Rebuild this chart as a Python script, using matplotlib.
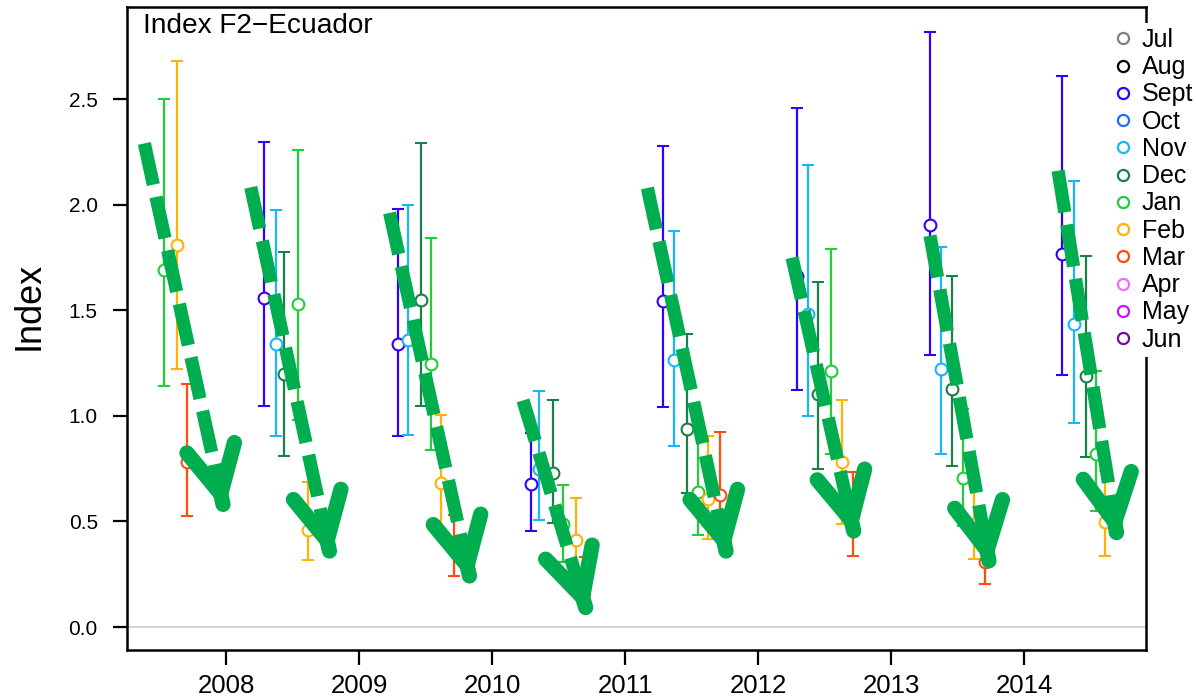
import matplotlib
matplotlib.use("Agg")
import matplotlib.pyplot as plt
from matplotlib.lines import Line2D
import numpy as np

plt.rcParams['font.family'] = ['Liberation Sans', 'DejaVu Sans']

# legend entries (R-style month palette)
legend_months = ["Jul", "Aug", "Sept", "Oct", "Nov", "Dec", "Jan", "Feb", "Mar", "Apr", "May", "Jun"]
legend_colors = ["#7F7F7F", "#000000", "#3300FF", "#1E6FFF", "#19B5FF", "#1B7F4A",
                 "#22CC3A", "#FFB300", "#FF4D0D", "#FF66FF", "#CC11FF", "#6A0DA0"]

# one entry per survey: month, position (decimal year), index, lower and upper bound
pt_month = ["Jan", "Feb", "Mar",
            "Sept", "Nov", "Dec", "Jan", "Feb",
            "Sept", "Nov", "Dec", "Jan", "Feb", "Mar",
            "Sept", "Nov", "Dec", "Jan", "Feb", "Mar",
            "Sept", "Nov", "Dec", "Jan", "Feb", "Mar",
            "Sept", "Nov", "Dec", "Jan", "Feb", "Mar",
            "Sept", "Nov", "Dec", "Jan", "Feb", "Mar",
            "Sept", "Nov", "Dec", "Jan", "Feb"]
pt_x = [2007.530, 2007.629, 2007.705,
        2008.286, 2008.376, 2008.436, 2008.544, 2008.619,
        2009.293, 2009.371, 2009.464, 2009.541, 2009.617, 2009.714,
        2010.293, 2010.356, 2010.461, 2010.536, 2010.632, 2010.699,
        2011.283, 2011.371, 2011.464, 2011.547, 2011.626, 2011.714,
        2012.291, 2012.378, 2012.453, 2012.547, 2012.629, 2012.712,
        2013.293, 2013.376, 2013.461, 2013.539, 2013.624, 2013.707,
        2014.288, 2014.376, 2014.464, 2014.541, 2014.609]
pt_val = [1.69, 1.81, 0.78,
          1.557, 1.34, 1.20, 1.53, 0.46,
          1.34, 1.357, 1.55, 1.247, 0.682, 0.38,
          0.676, 0.75, 0.727, 0.49, 0.411, 0.24,
          1.546, 1.266, 0.94, 0.64, 0.608, 0.624,
          1.664, 1.483, 1.105, 1.212, 0.78, 0.53,
          1.905, 1.22, 1.128, 0.706, 0.49, 0.306,
          1.767, 1.433, 1.188, 0.821, 0.498]
pt_lo = [1.14, 1.22, 0.525,
         1.046, 0.903, 0.81, 0.98, 0.317,
         0.903, 0.91, 1.045, 0.84, 0.459, 0.241,
         0.455, 0.509, 0.493, 0.309, 0.22, 0.15,
         1.042, 0.856, 0.635, 0.435, 0.415, 0.42,
         1.12, 0.998, 0.746, 0.821, 0.49, 0.336,
         1.289, 0.821, 0.763, 0.48, 0.32, 0.203,
         1.191, 0.966, 0.805, 0.55, 0.336]
pt_hi = [2.50, 2.68, 1.15,
         2.295, 1.976, 1.775, 2.26, 0.687,
         1.98, 2.0, 2.29, 1.842, 1.002, 0.53,
         0.92, 1.117, 1.077, 0.671, 0.613, 0.33,
         2.279, 1.877, 1.389, 0.93, 0.903, 0.924,
         2.457, 2.188, 1.633, 1.79, 1.077, 0.734,
         2.818, 1.798, 1.664, 1.03, 0.70, 0.424,
         2.61, 2.113, 1.759, 1.212, 0.74]

# hand-drawn decline arrows (start, tip) in data units
arrow_start = [(2007.386, 2.29), (2008.186, 2.082), (2009.23, 1.961), (2010.233, 1.073),
               (2011.168, 2.079), (2012.256, 1.749), (2013.293, 1.853), (2014.256, 2.161)]
arrow_tip = [(2007.987, 0.553), (2008.787, 0.332), (2009.84, 0.214), (2010.717, 0.065),
             (2011.769, 0.332), (2012.729, 0.427), (2013.744, 0.285), (2014.702, 0.419)]

green = "#00AD4F"

fig = plt.figure(figsize=(11.96, 7.0), dpi=100)
ax = fig.add_axes([0.1062, 0.0714, 0.8520, 0.9186])
ax.set_xlim(2007.2556, 2014.917)
ax.set_ylim(-0.109, 2.936)

ax.axhline(0, color="#CCCCCC", lw=1.2, zorder=1)

pt_month = np.array(pt_month)
pt_x = np.array(pt_x)
pt_val = np.array(pt_val)
pt_lo = np.array(pt_lo)
pt_hi = np.array(pt_hi)
for m, c in zip(legend_months, legend_colors):
    sel = pt_month == m
    if not sel.any():
        continue
    y = pt_val[sel]
    ax.errorbar(pt_x[sel], y, yerr=[y - pt_lo[sel], pt_hi[sel] - y], fmt='o',
                mfc='white', mec=c, ecolor=c, ms=8.5, mew=1.5,
                elinewidth=1.6, capsize=4.3, capthick=1.6, zorder=3)

# arrows: dashed shaft + open V head
to_px = ax.transData
from_px = ax.transData.inverted()
for (x0, y0), (x1, y1) in zip(arrow_start, arrow_tip):
    p0 = to_px.transform((x0, y0))
    p1 = to_px.transform((x1, y1))
    d = (p1 - p0) / np.hypot(*(p1 - p0))
    pe = from_px.transform(p1 - d * 26)
    ax.plot([x0, pe[0]], [y0, pe[1]], color=green, lw=9.5, dashes=(3.2, 0.95),
            solid_capstyle='butt', dash_capstyle='butt', zorder=6)
    ph = from_px.transform(p1 - d * 6)
    ax.annotate('', xy=(x1, y1), xytext=(ph[0], ph[1]),
                arrowprops=dict(arrowstyle='->,head_length=3.4,head_width=1.75',
                                lw=11, color=green, shrinkA=0, shrinkB=0,
                                mutation_scale=10, capstyle='round', joinstyle='miter'),
                zorder=7)

ax.set_xticks([2008, 2009, 2010, 2011, 2012, 2013, 2014])
ax.set_xticklabels(["2008", "2009", "2010", "2011", "2012", "2013", "2014"])
ax.set_yticks([0, 0.5, 1.0, 1.5, 2.0, 2.5])
ax.set_yticklabels(["0.0", "0.5", "1.0", "1.5", "2.0", "2.5"])
ax.tick_params(axis='x', direction='out', length=11, width=1.6, labelsize=18.5, pad=6)
ax.tick_params(axis='y', direction='out', length=10, width=1.6, labelsize=15, pad=11)
for s in ax.spines.values():
    s.set_linewidth(1.8)

ax.set_ylabel("Index", fontsize=26, labelpad=16)
ax.yaxis.label.set_y(0.535)
ax.text(0.0157, 0.9596, "Index F2\u2212Ecuador", transform=ax.transAxes,
        fontsize=20.2, va='baseline', ha='left')

handles = [Line2D([], [], marker='o', ls='none', mfc='white', mec=c, ms=8, mew=1.6)
           for c in legend_colors]
leg = ax.legend(handles, legend_months, loc='upper left',
                bbox_to_anchor=(1109 / 1196, 1 - 23 / 700), bbox_transform=fig.transFigure,
                fontsize=18, frameon=True, framealpha=1, facecolor='white', edgecolor='none',
                fancybox=False, borderpad=0.2, borderaxespad=0, labelspacing=0.13,
                handlelength=0.75, handletextpad=0.36)
leg.set_zorder(10)

fig.savefig("out.png", dpi=100)
